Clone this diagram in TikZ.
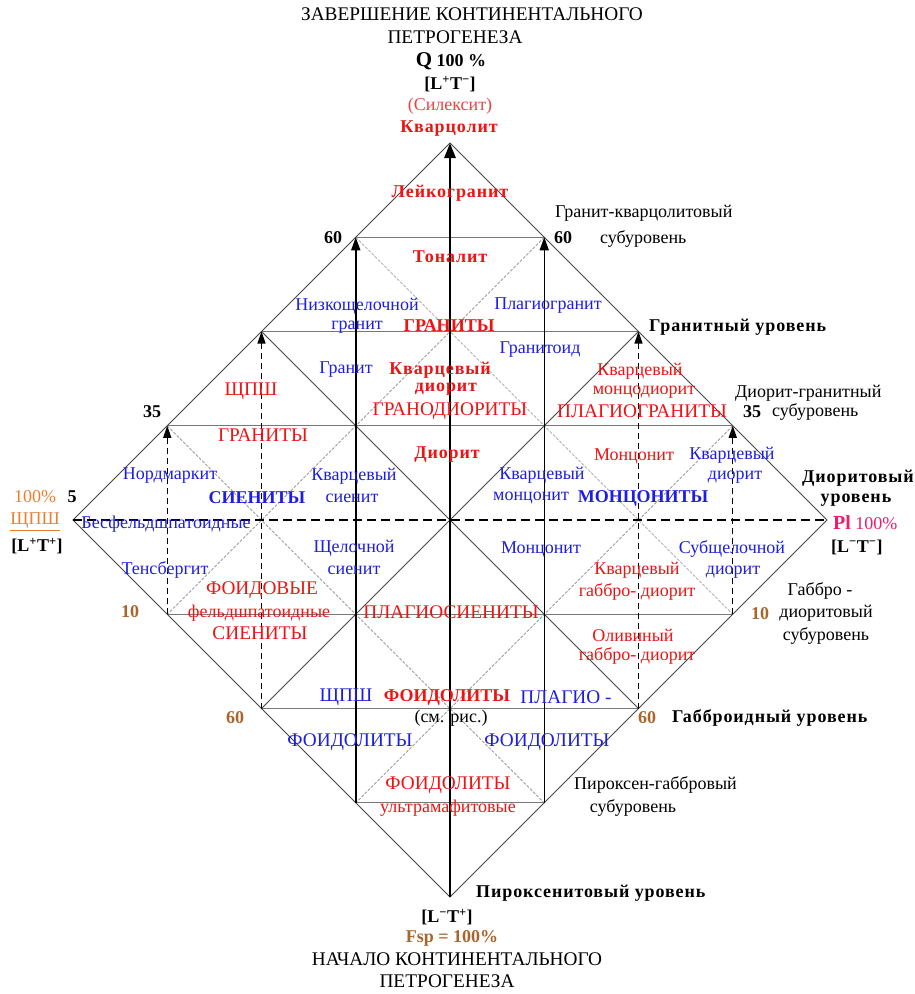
\documentclass[tikz,border=0pt]{standalone}
\usepackage{fontspec}
\setmainfont{Liberation Serif}
\usetikzlibrary{arrows.meta}
\definecolor{rtx}{RGB}{238,20,20}
\definecolor{rlt}{RGB}{232,70,70}
\definecolor{btx}{RGB}{30,30,225}
\definecolor{orng}{RGB}{232,128,52}
\definecolor{brwn}{RGB}{168,102,44}
\definecolor{pnk}{RGB}{232,30,110}
\definecolor{edgegray}{RGB}{70,70,70}
\definecolor{hgray}{RGB}{120,120,120}
\definecolor{lgray}{RGB}{140,140,140}
\newcommand\lsp{\addfontfeatures{LetterSpace=5}}
\tikzset{
  txt/.style={inner sep=0pt, align=center, font=\fontsize{18}{21}\selectfont},
  tcap/.style={txt, font=\fontsize{19.3}{22}\selectfont},
  tbold/.style={txt, font=\fontsize{18}{20}\selectfont\bfseries},
  tred/.style={txt, text=rtx},
  tredc/.style={tcap, text=rtx},
  tredb/.style={tbold, text=rtx},
  tblue/.style={txt, text=btx},
  tbluec/.style={tcap, text=btx},
  tblueb/.style={tbold, text=btx},
  tbrown/.style={tbold, text=brwn},
  diamondedge/.style={draw=edgegray, line width=0.9pt},
  hline/.style={draw=hgray, line width=0.8pt},
  mainline/.style={draw=edgegray, line width=0.9pt},
  subline/.style={draw=lgray, line width=0.7pt, dash pattern=on 3pt off 1.5pt},
  midline/.style={draw=black, line width=1.4pt, dash pattern=on 9pt off 5pt},
  bigarrow/.style={draw=black, line width=2.8pt, -{Triangle[length=15pt,width=11pt]}},
  solidarrow/.style={draw=black, line width=1.5pt, -{Triangle[length=13pt,width=9pt]}},
  dasharrow/.style={draw=black, line width=1.3pt, dash pattern=on 6pt off 4pt, -{Triangle[length=12pt,width=8pt]}}
}
\begin{document}
\begin{tikzpicture}[x=1pt,y=-1pt]
\fill[white] (0,0) rectangle (914,994);
\useasboundingbox (0,0) rectangle (914,994);
% grid vertices
\coordinate (T) at (450,143);
\coordinate (B) at (450,897);
\coordinate (L) at (73,520);
\coordinate (R) at (827,520);
\coordinate (C) at (450,520);
\coordinate (a1) at (355.75,237.25);
\coordinate (b1) at (544.25,237.25);
\coordinate (a2) at (261.5,331.5);
\coordinate (m2) at (450,331.5);
\coordinate (b2) at (638.5,331.5);
\coordinate (a3) at (167.25,425.75);
\coordinate (c3) at (355.75,425.75);
\coordinate (d3) at (544.25,425.75);
\coordinate (b3) at (732.75,425.75);
\coordinate (l4) at (261.5,520);
\coordinate (r4) at (638.5,520);
\coordinate (a5) at (167.25,614.25);
\coordinate (c5) at (355.75,614.25);
\coordinate (d5) at (544.25,614.25);
\coordinate (b5) at (732.75,614.25);
\coordinate (a6) at (261.5,708.5);
\coordinate (m6) at (450,708.5);
\coordinate (b6) at (638.5,708.5);
\coordinate (a7) at (355.75,802.75);
\coordinate (b7) at (544.25,802.75);
% horizontal levels
\draw[hline] (a1) -- (b1);
\draw[hline] (a2) -- (b2);
\draw[hline] (a3) -- (b3);
\draw[hline] (a5) -- (b5);
\draw[hline] (a6) -- (b6);
\draw[hline] (a7) -- (b7);
% secondary diagonals
\draw[subline] (a1) -- (b5);
\draw[subline] (b1) -- (a5);
\draw[subline] (a3) -- (b7);
\draw[subline] (b3) -- (a7);
% main diagonals
\draw[mainline] (a2) -- (b6);
\draw[mainline] (b2) -- (a6);
% outline
\draw[diamondedge] (T) -- (R) -- (B) -- (L) -- cycle;
% middle dashed
\draw[midline] (L) -- (R);
% arrows
\draw[dasharrow] (a6) -- (a2);
\draw[dasharrow] (b6) -- (b2);
\draw[dasharrow] (a5) -- (a3);
\draw[dasharrow] (b5) -- (b3);
\draw[solidarrow] (a7) -- (a1);
\draw[solidarrow] (b7) -- (b1);
\draw[bigarrow] (B) -- (T);

% ---- top texts
\node[tcap] (top1) at (472,14) {ЗАВЕРШЕНИЕ КОНТИНЕНТАЛЬНОГО};
\node[tcap] (top2) at (455,37) {ПЕТРОГЕНЕЗА};
\node[tbold] (top3) at (451,61) {{\fontsize{21}{22}\selectfont Q} 100 \%};
\node[tbold] (top4) at (450,84) {[L\textsuperscript{+}T\textsuperscript{−}]};
\node[txt, text=rlt] (top5) at (450,106) {(Силексит)};
\node[tredb] (top6) at (449,129) {\lsp Кварцолит};

% ---- right side labels
\node[txt, anchor=west] (rs1) at (555,213) {Гранит-кварцолитовый};
\node[txt, anchor=west] (rs2) at (600,239) {субуровень};
\node[tbold] (n60r) at (563,238) {60};
\node[tbold] (n60l) at (333,238) {60};
\node[tbold, anchor=west] (rs3) at (649,327) {\lsp Гранитный уровень};
\node[txt, anchor=west] (rs4) at (735,393) {Диорит-гранитный};
\node[tbold] (n35r) at (752,412) {35};
\node[txt, anchor=west] (rs5) at (772,412) {субуровень};
\node[tbold] (n35l) at (152,412) {35};
\node[tbold, anchor=west] (rs6) at (802,478) {\lsp Диоритовый};
\node[tbold] (rs7) at (856,500) {\lsp уровень};
\node[txt, anchor=west, text=pnk] (rs8) at (833,523) {{\fontsize{20}{22}\selectfont\bfseries Pl} 100\%};
\node[tbold, anchor=west] (rs9) at (831,547) {[L\textsuperscript{−}T\textsuperscript{−}]};
\node[txt] (rs10) at (820,591) {Габбро -};
\node[txt] (rs11) at (826,613) {диоритовый};
\node[txt] (rs12) at (826,636) {субуровень};
\node[tbrown] (n10r) at (760,614) {10};
\node[tbrown] (n60rb) at (647,718) {60};
\node[tbold, anchor=west] (rs13) at (672,718) {\lsp Габброидный уровень};
\node[txt, anchor=west] (rs14) at (574,785) {Пироксен-габбровый};
\node[txt] (rs15) at (633,808) {субуровень};
\node[tbold, anchor=west] (rs16) at (476,893) {\lsp Пироксенитовый уровень};

% ---- bottom texts
\node[tbold] (bt1) at (447,917) {[L\textsuperscript{−}T\textsuperscript{+}]};
\node[tbrown] (bt2) at (452,938) {Fsp = 100\%};
\node[tcap] (bt3) at (457,959) {НАЧАЛО КОНТИНЕНТАЛЬНОГО};
\node[tcap] (bt4) at (447,981) {ПЕТРОГЕНЕЗА};

% ---- left side labels
\node[txt, text=orng] (ls1) at (35,497) {100\%};
\node[tbold] (n5) at (72,497) {5};
\node[txt, text=orng] (ls2) at (35,522) {\underline{ЩПШ}};
\node[tbold] (ls3) at (37,546) {[L\textsuperscript{+}T\textsuperscript{+}]};
\node[tbrown] (n10l) at (130,612) {10};
\node[tbrown] (n60lb) at (235,718) {60};

% ---- interior: top sector
\node[tredb] (i1) at (450,193) {\lsp Лейкогранит};
\node[tredb] (i2) at (450,257) {\lsp Тоналит};
\node[tblue] (i3) at (357,306) {Низкощелочной};
\node[tblue] (i4) at (357,327) {гранит};
\node[tredb] (i5) at (449,326) {ГРАНИТЫ};
\node[tblue] (i6) at (548,306) {Плагиогранит};
\node[tblue] (i7) at (540,350) {Гранитоид};
\node[tblue] (i8) at (346,370) {Гранит};
\node[tredb] (i9) at (440,370) {\lsp Кварцевый};
\node[tredb] (i10) at (446,389) {\lsp диорит};
\node[tredc] (i11) at (450,411) {ГРАНОДИОРИТЫ};
\node[tredc] (i12) at (251,391) {ЩПШ};
\node[tredc] (i13) at (263,435) {ГРАНИТЫ};
\node[tred] (i14) at (640,371) {Кварцевый};
\node[tred] (i15) at (644,392) {монцодиорит};
\node[tredc] (i16) at (642,411) {ПЛАГИОГРАНИТЫ};
\node[tredb] (i17) at (447,455) {\lsp Диорит};

% ---- interior: left / right sectors upper
\node[tblue] (i18) at (170,476) {Нордмаркит};
\node[tblueb] (i19) at (257,498) {СИЕНИТЫ};
\node[tblue] (i20) at (354,476) {Кварцевый};
\node[tblue] (i21) at (352,498) {сиенит};
\node[tblue] (i22) at (542,475) {Кварцевый};
\node[tblue] (i23) at (531,498) {монцонит};
\node[tblueb] (i24) at (643,498) {МОНЦОНИТЫ};
\node[tred] (i25) at (634,456) {Монцонит};
\node[tblue] (i26) at (732,455) {Кварцевый};
\node[tblue] (i27) at (735,477) {диорит};

% ---- interior: lower half
\node[tblue] (i28) at (166,524) {Бесфельдшпатоидные};
\node[tblue] (i29) at (165,570) {Тенсбергит};
\node[tblue] (i30) at (354,548) {Щелочной};
\node[tblue] (i31) at (354,570) {сиенит};
\node[tblue] (i32) at (541,549) {Монцонит};
\node[tblue] (i33) at (732,549) {Субщелочной};
\node[tblue] (i34) at (733,572) {диорит};
\node[tredc] (i35) at (262,590) {ФОИДОВЫЕ};
\node[tred] (i36) at (259,613) {фельдшпатоидные};
\node[tredc] (i37) at (260,633) {СИЕНИТЫ};
\node[tredc] (i38) at (451,612) {ПЛАГИОСИЕНИТЫ};
\node[tred] (i39) at (637,570) {Кварцевый};
\node[tred] (i40) at (637,592) {габбро- диорит};
\node[tred] (i41) at (633,635) {Оливиный};
\node[tred] (i42) at (637,656) {габбро- диорит};
\node[tbluec] (i43) at (346,697) {ЩПШ};
\node[tredb] (i44) at (447,697) {ФОИДОЛИТЫ};
\node[tbluec] (i45) at (566,697) {ПЛАГИО -};
\node[txt] (i46) at (451,718) {(см. рис.)};
\node[tbluec] (i47) at (350,742) {ФОИДОЛИТЫ};
\node[tbluec] (i48) at (547,742) {ФОИДОЛИТЫ};
\node[tredc] (i49) at (448,785) {ФОИДОЛИТЫ};
\node[tred] (i50) at (448,808) {ультрамафитовые};
\end{tikzpicture}
\end{document}
